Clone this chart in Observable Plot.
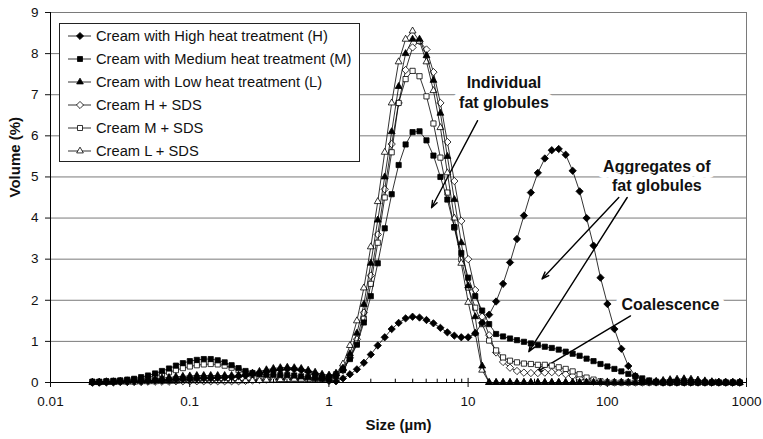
<!DOCTYPE html>
<html>
<head>
<meta charset="utf-8">
<script src="https://cdn.jsdelivr.net/npm/d3@7"></script>
<script src="https://cdn.jsdelivr.net/npm/@observablehq/plot@0.6"></script>
<style>
  body { margin: 0; background: white; font-family: "Liberation Sans", Arial, sans-serif; }
  #wrap { position: relative; width: 763px; height: 439px; }
  #legend { position: absolute; left: 59px; top: 23px; width: 301px; height: 139px; border: 1px solid #222; background: white; box-sizing: border-box; }
  .item { position: absolute; left: 8px; height: 16px; display: flex; align-items: center; font-size: 14.7px; color: #111; white-space: nowrap; }
  .item svg { margin-right: 4px; }
</style>
</head>
<body>
<div id="wrap"><div id="legend"></div></div>
<script>
// Particle size classes (µm)
const sizes = [
  0.02,0.0224,0.0252,0.0283,0.0317,0.0356,0.0399,0.0448,0.0502,0.0564,
  0.0632,0.071,0.0796,0.0893,0.1002,0.1125,0.1262,0.1416,0.1589,0.1783,
  0.2,0.2244,0.2518,0.2825,0.317,0.3557,0.3991,0.4477,0.5024,0.5637,
  0.6325,0.7096,0.7962,0.8934,1.002,1.125,1.262,1.416,1.589,1.783,
  2,2.244,2.518,2.825,3.17,3.557,3.991,4.477,5.024,5.637,
  6.325,7.096,7.962,8.934,10.02,11.25,12.62,14.16,15.89,17.83,
  20,22.44,25.18,28.25,31.7,35.57,39.91,44.77,50.24,56.37,
  63.25,70.96,79.62,89.34,100.2,112.5,126.2,141.6,158.9,178.3,
  200,224.4,251.8,282.5,317,355.7,399.1,447.7,502.4,563.7,
  632.5,709.6,796.2,893.4
];
// Volume (%) per series
const volH = [
  0,0,0.01,0.01,0.02,0.02,0.03,0.03,0.04,0.05,
  0.05,0.06,0.07,0.08,0.08,0.09,0.1,0.1,0.11,0.12,
  0.13,0.15,0.17,0.2,0.23,0.26,0.29,0.31,0.32,0.32,
  0.3,0.26,0.2,0.12,0.04,0.03,0.1,0.2,0.32,0.48,
  0.68,0.9,1.1,1.3,1.45,1.56,1.6,1.58,1.52,1.44,
  1.33,1.22,1.14,1.1,1.1,1.2,1.45,1.65,1.97,2.4,
  2.92,3.49,4.06,4.62,5.1,5.45,5.65,5.68,5.54,5.15,
  4.65,4.0,3.33,2.55,1.91,1.3,0.82,0.4,0.16,0.05,
  0.02,0.01,0,0,0,0,0,0,0,0,
  0,0,0,0
];
const volM = [
  0.02,0.02,0.03,0.04,0.05,0.07,0.09,0.13,0.17,0.22,
  0.28,0.34,0.41,0.47,0.52,0.55,0.57,0.57,0.54,0.49,
  0.42,0.35,0.28,0.23,0.2,0.19,0.19,0.18,0.18,0.17,
  0.15,0.13,0.11,0.1,0.1,0.15,0.3,0.57,0.92,1.46,
  2.1,2.9,3.75,4.58,5.29,5.79,6.09,6.11,5.89,5.52,
  5.0,4.45,3.78,3.15,2.55,2.1,1.75,1.42,1.18,1.12,
  1.07,1.03,0.99,0.95,0.91,0.87,0.84,0.8,0.75,0.7,
  0.65,0.58,0.52,0.45,0.39,0.33,0.27,0.21,0.15,0.1,
  0.05,0.02,0,0,0,0,0,0,0,0,
  0,0,0,0
];
const volL = [
  0.01,0.01,0.02,0.02,0.03,0.04,0.05,0.06,0.08,0.09,
  0.11,0.12,0.14,0.15,0.16,0.17,0.17,0.17,0.17,0.17,
  0.17,0.18,0.2,0.23,0.27,0.31,0.34,0.36,0.37,0.36,
  0.34,0.3,0.25,0.2,0.18,0.22,0.35,0.7,1.2,1.9,
  2.9,3.95,5.0,6.1,7.2,8.0,8.35,8.35,7.95,7.35,
  6.55,5.5,4.45,3.4,2.35,1.6,0.4,0,0,0,
  0,0,0,0,0,0,0,0,0,0,
  0,0,0,0,0,0,0,0,0,0,
  0.02,0.03,0.05,0.07,0.08,0.09,0.08,0.06,0.04,0.02,
  0.01,0,0,0
];
const volHS = [
  0,0,0,0,0.01,0.01,0.01,0.01,0.02,0.02,
  0.02,0.02,0.03,0.03,0.03,0.03,0.03,0.03,0.03,0.03,
  0.03,0.03,0.04,0.05,0.06,0.07,0.08,0.09,0.1,0.1,
  0.1,0.1,0.09,0.08,0.1,0.17,0.3,0.6,1.05,1.7,
  2.6,3.6,4.7,5.8,6.8,7.6,8.15,8.3,8.1,7.55,
  6.8,5.85,4.9,3.93,3.0,2.25,1.6,1.15,0.73,0.5,
  0.36,0.28,0.24,0.23,0.23,0.24,0.25,0.24,0.2,0.16,
  0.1,0.05,0.02,0,0,0,0,0,0,0,
  0,0,0,0,0,0,0,0,0,0,
  0,0,0,0
];
const volMS = [
  0.01,0.01,0.02,0.03,0.04,0.05,0.07,0.09,0.12,0.16,
  0.2,0.25,0.3,0.35,0.39,0.42,0.44,0.45,0.44,0.41,
  0.36,0.3,0.24,0.19,0.15,0.13,0.11,0.1,0.09,0.09,
  0.08,0.08,0.08,0.09,0.12,0.2,0.32,0.6,0.95,1.55,
  2.4,3.4,4.5,5.6,6.8,7.38,7.58,7.45,6.96,6.3,
  5.47,4.62,3.77,3.0,2.31,1.82,1.42,1.02,0.78,0.61,
  0.53,0.49,0.46,0.45,0.43,0.43,0.41,0.37,0.33,0.27,
  0.2,0.12,0.07,0.03,0,0,0,0,0,0,
  0,0,0,0,0,0,0,0,0,0,
  0,0,0,0
];
const volLS = [
  0,0,0,0,0.01,0.01,0.01,0.02,0.02,0.02,
  0.03,0.03,0.03,0.04,0.04,0.04,0.04,0.04,0.04,0.04,
  0.04,0.04,0.04,0.05,0.05,0.06,0.06,0.07,0.07,0.08,
  0.08,0.08,0.08,0.08,0.12,0.22,0.45,0.9,1.5,2.3,
  3.3,4.4,5.6,6.8,7.8,8.35,8.55,8.3,7.8,7.1,
  6.2,5.1,4.0,2.9,1.95,1.2,0.3,0,0,0,
  0,0,0,0,0,0,0,0,0,0,
  0,0,0,0,0,0,0,0,0,0,
  0,0,0,0,0,0,0,0,0,0,
  0,0,0,0
];
const seriesNames = [
  "Cream with High heat treatment (H)",
  "Cream with Medium heat treatment (M)",
  "Cream with Low heat treatment (L)",
  "Cream H + SDS",
  "Cream M + SDS",
  "Cream L + SDS"
];
const seriesValues = [volH, volM, volL, volHS, volMS, volLS];
const seriesSymbols = ["diamond2", "square2", "triangle2", "diamond2", "square2", "triangle2"];
const seriesFills = ["black", "black", "black", "white", "white", "white"];
const drawOrder = [3, 4, 5, 0, 1, 2];

const xTicks = [0.01, 0.1, 1, 10, 100, 1000];
const xTickLabels = ["0.01", "0.1", "1", "10", "100", "1000"];
const yTicks = [0, 1, 2, 3, 4, 5, 6, 7, 8, 9];
const xMinor = d3.scaleLog().domain([0.01, 1000]).ticks().filter(v => !xTicks.some(t => Math.abs(t - v) / t < 1e-6));
const xLabelOf = d => {
  const j = xTicks.findIndex(t => Math.abs(t - d) / t < 1e-6);
  return j >= 0 ? xTickLabels[j] : "";
};

// Annotations (data coordinates)
const noteLabels = ["Individual\nfat globules", "Aggregates of\nfat globules", "Coalescence"];
const noteX = [18.1, 227, 284];
const noteY = [7.07, 5.04, 1.91];
const arrowFromX = [11.7, 120.9, 139, 146.8];
const arrowFromY = [6.37, 4.5, 4.5, 1.62];
const arrowToX = [5.46, 34.0, 27.3, 31.0];
const arrowToY = [4.25, 2.52, 0.75, 0.25];

const rows = [];
seriesNames.forEach((name, k) => {
  sizes.forEach((s, i) => rows.push({series: name, k, size: s, vol: seriesValues[k][i]}));
});
const notes = noteLabels.map((t, i) => ({t, x: noteX[i], y: noteY[i]}));
const arrows = arrowFromX.map((_, i) => ({x1: arrowFromX[i], y1: arrowFromY[i], x2: arrowToX[i], y2: arrowToY[i]}));

const seriesMarks = [];
for (const k of drawOrder) {
  const d = rows.filter(r => r.k === k);
  seriesMarks.push(Plot.line(d, {x: "size", y: "vol", stroke: "black", strokeWidth: 0.8}));
  seriesMarks.push(Plot.dot(d, {x: "size", y: "vol", symbol: seriesSymbols[k], r: 3.3, fill: seriesFills[k], stroke: "black", strokeWidth: 0.8}));
}

const chart = Plot.plot({
  width: 763,
  height: 439,
  marginLeft: 50,
  marginRight: 17,
  marginTop: 12,
  marginBottom: 57,
  style: {fontFamily: "'Liberation Sans', Arial, sans-serif", fontSize: "13px", color: "#111", background: "white"},
  x: {type: "log", domain: [0.01, 1000]},
  y: {domain: [0, 9]},
  marks: [
    Plot.gridY(yTicks.slice(1), {stroke: "#7a7a7a", strokeOpacity: 1, strokeWidth: 1}),
    Plot.frame({stroke: "#7a7a7a"}),
    Plot.text(notes, {x: "x", y: "y", text: "t", fontSize: 16, fontWeight: "bold", lineHeight: 1.2, fill: "#111", stroke: "white", strokeWidth: 12, lineAnchor: "middle"}),
    Plot.arrow(arrows, {x1: "x1", y1: "y1", x2: "x2", y2: "y2", stroke: "black", strokeWidth: 1.4, headLength: 8, headAngle: 40}),
    ...seriesMarks,
    Plot.ruleY([0], {stroke: "black"}),
    Plot.ruleX([0.01], {stroke: "black"}),
    Plot.ruleX(xMinor, {y1: 0, y2: 0.08, stroke: "black"}),
    Plot.ruleX(xTicks, {y1: 0, y2: 0.1, stroke: "black"}),
    Plot.axisX({ticks: xTicks, tickFormat: xLabelOf, tickSize: 5, tickPadding: 9, label: null, fontSize: 13.5}),
    Plot.axisY({ticks: yTicks, tickSize: 5, tickPadding: 7, label: null, fontSize: 13.5}),
    Plot.text(["Volume (%)"], {frameAnchor: "left", dx: -35, rotate: -90, fontWeight: "bold", fontSize: 15, fill: "#111"}),
    Plot.text(["Size (µm)"], {frameAnchor: "bottom", dy: 47, fontWeight: "bold", fontSize: 15, fill: "#111"})
  ]
});
document.getElementById("wrap").prepend(chart);

// Legend
const legend = d3.select("#legend");
const symbolTypes = {diamond2: d3.symbolDiamond2, square2: d3.symbolSquare2, triangle2: d3.symbolTriangle2};
seriesNames.forEach((name, k) => {
  const item = legend.append("div").attr("class", "item").style("top", (3.5 + k * 23) + "px");
  const svg = item.append("svg").attr("width", 24).attr("height", 16);
  svg.append("line").attr("x1", 0).attr("x2", 23).attr("y1", 8).attr("y2", 8).attr("stroke", "black").attr("stroke-width", 0.8);
  svg.append("path")
    .attr("transform", "translate(12,8)")
    .attr("d", d3.symbol(symbolTypes[seriesSymbols[k]], Math.PI * 3.2 * 3.2)())
    .attr("fill", seriesFills[k]).attr("stroke", "black").attr("stroke-width", 0.8);
  item.append("span").text(name);
});
</script>
</body>
</html>
